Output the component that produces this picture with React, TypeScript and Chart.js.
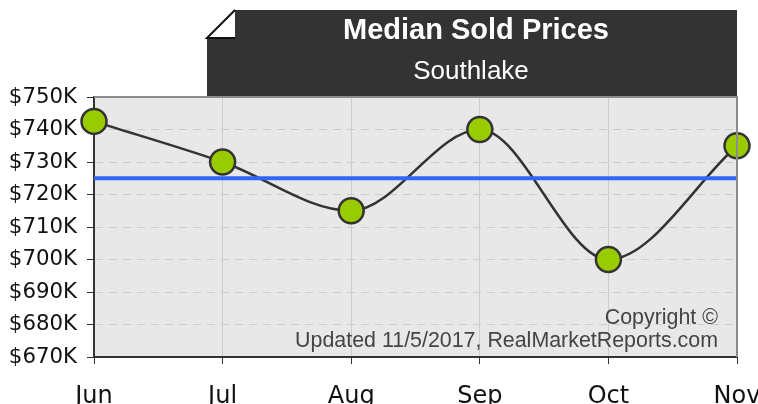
import React, { useEffect, useRef } from "react";
import { Chart, registerables } from "chart.js";

Chart.register(...registerables);

const MONTHS = ["Jun", "Jul", "Aug", "Sep", "Oct", "Nov"];
const MEDIAN_PRICES = [742.5, 730, 715, 740, 700, 735];
const AVERAGE_PRICE = [725, 725, 725, 725, 725, 725];
const Y_MIN = 670;
const Y_MAX = 750;
const Y_STEP = 10;
const TITLE = "Median Sold Prices";
const SUBTITLE = "Southlake";
const COPYRIGHT_1 = "Copyright \u00A9";
const COPYRIGHT_2 = "Updated 11/5/2017, RealMarketReports.com";

const decorPlugin = {
  id: "decor",
  beforeDraw(chart: any) {
    const { ctx, chartArea } = chart;
    const { left, right, top, bottom } = chartArea;
    ctx.save();
    ctx.fillStyle = "#e8e8e8";
    ctx.fillRect(left, top, right - left, bottom - top);
    ctx.restore();
  },
  afterDatasetsDraw(chart: any) {
    const { ctx, chartArea } = chart;
    const { right, bottom } = chartArea;
    ctx.save();
    ctx.fillStyle = "#444";
    ctx.font = '21.4px "Liberation Sans", Arial, sans-serif';
    ctx.textAlign = "right";
    ctx.textBaseline = "alphabetic";
    ctx.fillText(COPYRIGHT_1, right - 19, bottom - 33);
    ctx.fillText(COPYRIGHT_2, right - 19, bottom - 10);
    ctx.restore();
  },
  afterDraw(chart: any) {
    const { ctx, chartArea } = chart;
    const { left, right, top, bottom } = chartArea;
    ctx.save();
    // top and right borders
    ctx.strokeStyle = "#8c8c8c";
    ctx.lineWidth = 2;
    ctx.beginPath();
    ctx.moveTo(left, top);
    ctx.lineTo(right, top);
    ctx.lineTo(right, bottom);
    ctx.stroke();
    // title box
    const bx = 207;
    const by = 10;
    const fold = 28;
    ctx.fillStyle = "#333333";
    ctx.beginPath();
    ctx.moveTo(bx + fold, by);
    ctx.lineTo(right, by);
    ctx.lineTo(right, top - 1);
    ctx.lineTo(bx, top - 1);
    ctx.lineTo(bx, by + fold);
    ctx.closePath();
    ctx.fill();
    // folded corner
    ctx.fillStyle = "#ffffff";
    ctx.strokeStyle = "#111111";
    ctx.lineWidth = 2;
    ctx.beginPath();
    ctx.moveTo(bx + fold, by);
    ctx.lineTo(bx + fold, by + fold);
    ctx.lineTo(bx, by + fold);
    ctx.closePath();
    ctx.fill();
    ctx.beginPath();
    ctx.moveTo(bx + fold, by);
    ctx.lineTo(bx, by + fold);
    ctx.lineTo(bx + fold, by + fold);
    ctx.stroke();
    // title texts
    ctx.fillStyle = "#ffffff";
    ctx.textAlign = "center";
    ctx.textBaseline = "alphabetic";
    ctx.font = 'bold 29px "Liberation Sans", Arial, sans-serif';
    ctx.fillText(TITLE, 476, 39);
    ctx.font = '26px "Liberation Sans", Arial, sans-serif';
    ctx.fillText(SUBTITLE, 471, 79);
    ctx.restore();
  },
};

export default function App() {
  const canvasRef = useRef<HTMLCanvasElement | null>(null);

  useEffect(() => {
    const canvas = canvasRef.current;
    if (!canvas) return;
    const chart = new Chart(canvas, {
      type: "line",
      data: {
        labels: MONTHS,
        datasets: [
          {
            label: "points",
            data: MEDIAN_PRICES,
            showLine: false,
            pointRadius: 12.5,
            pointHoverRadius: 12.5,
            pointBackgroundColor: "#99cc00",
            pointBorderColor: "#333333",
            pointBorderWidth: 2.5,
            order: 0,
            clip: false,
          } as any,
          {
            label: "average",
            data: AVERAGE_PRICE,
            borderColor: "#3366ff",
            borderWidth: 4,
            pointRadius: 0,
            tension: 0,
            order: 1,
            clip: false,
          },
          {
            label: "median",
            data: MEDIAN_PRICES,
            borderColor: "#333333",
            borderWidth: 2.5,
            pointRadius: 0,
            cubicInterpolationMode: "monotone",
            order: 2,
            clip: false,
          } as any,
        ],
      },
      options: {
        responsive: false,
        animation: false,
        devicePixelRatio: 1,
        layout: { padding: { top: 97, right: 21, left: 0, bottom: 0 } },
        plugins: {
          legend: { display: false },
          tooltip: { enabled: false },
          title: { display: false },
        },
        scales: {
          x: {
            type: "category",
            offset: false,
            grid: {
              color: "#cccccc",
              lineWidth: 1,
              drawTicks: true,
              tickLength: 7,
              tickColor: "#333333",
              tickWidth: 1,
            },
            border: { display: true, color: "#333333", width: 2 },
            ticks: {
              color: "#111111",
              font: { family: '"DejaVu Sans", sans-serif', size: 24 },
              padding: 18,
              maxRotation: 0,
              autoSkip: false,
            },
            afterFit(scale: any) {
              scale.height = 47;
              scale.paddingLeft = 0;
              scale.paddingRight = 0;
            },
          },
          y: {
            min: Y_MIN,
            max: Y_MAX,
            grid: {
              color: "#cccccc",
              lineWidth: 1,
              drawTicks: true,
              tickLength: 7,
              tickColor: "#333333",
              tickWidth: 1,
              tickBorderDash: [],
            } as any,
            border: { display: true, color: "#333333", width: 2, dash: [8, 6] },
            ticks: {
              stepSize: Y_STEP,
              color: "#111111",
              font: { family: '"DejaVu Sans", sans-serif', size: 21.3 },
              padding: 10,
              callback: (v: any) => "$" + v + "K",
            },
            afterFit(scale: any) {
              scale.width = 94;
              scale.paddingTop = 0;
              scale.paddingBottom = 0;
            },
          },
        },
      },
      plugins: [decorPlugin],
    });
    return () => chart.destroy();
  }, []);

  return (
    <div style={{ position: "absolute", left: 0, top: 0, width: 758, height: 404, background: "#ffffff" }}>
      <canvas ref={canvasRef} width={758} height={404} style={{ width: 758, height: 404, display: "block" }} />
    </div>
  );
}
